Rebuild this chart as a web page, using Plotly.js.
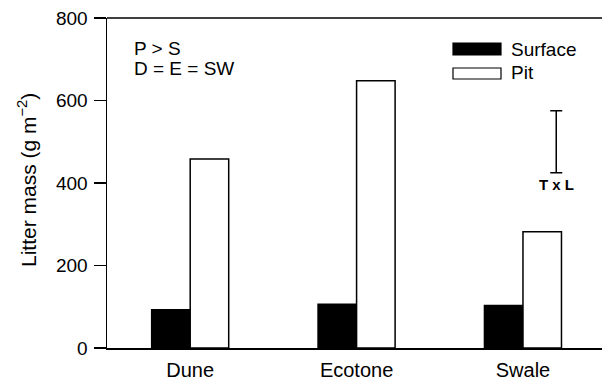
<!DOCTYPE html>
<html>
<head>
<meta charset="utf-8">
<script src="https://cdn.plot.ly/plotly-3.0.1.min.js"></script>
<style>html,body{margin:0;padding:0;background:#fff;}#chart{width:602px;height:383px;}</style>
</head>
<body>
<div id="chart"></div>
<script>
const categories = ["Dune", "Ecotone", "Swale"];
const surfaceValues = [93, 106, 103];
const pitValues = [458, 648, 282];
const seriesNames = ["Surface", "Pit"];
const yTicks = [0, 200, 400, 600, 800];
const errCenter = [500];
const errHalf = [75];
const errLabel = "T x L";
const statText = ["P > S", "D = E = SW"];

const catIdx = categories.map((c, i) => i);
const FONT = "Arial, 'Liberation Sans', Helvetica, sans-serif";

const traces = [
  {type: "bar", name: seriesNames[0], x: catIdx, y: surfaceValues,
   marker: {color: "#000", line: {color: "#000", width: 1.5}}, showlegend: false},
  {type: "bar", name: seriesNames[1], x: catIdx, y: pitValues,
   marker: {color: "#fff", line: {color: "#000", width: 1.5}}, showlegend: false},
  {type: "scatter", mode: "markers", x: [2.2], y: errCenter,
   marker: {size: 1, color: "rgba(0,0,0,0)"},
   error_y: {type: "data", array: errHalf, visible: true, color: "#000", thickness: 1.5, width: 6},
   showlegend: false, hoverinfo: "skip"}
];

const layout = {
  width: 602, height: 383,
  margin: {l: 107, r: 0, t: 18, b: 35},
  paper_bgcolor: "#fff", plot_bgcolor: "#fff",
  font: {family: FONT, size: 19, color: "#000"},
  barmode: "group", bargap: 0.537, bargroupgap: 0,
  xaxis: {range: [-0.5, 2.475], tickvals: catIdx, ticktext: categories, ticks: "",
          showline: true, linecolor: "#000", linewidth: 1.5, mirror: false,
          showgrid: false, zeroline: false, tickfont: {size: 20}, ticklabelstandoff: 3, fixedrange: true},
  yaxis: {range: [0, 800], tickvals: yTicks, ticks: "outside", ticklen: 12, tickwidth: 1.5,
          tickcolor: "#000", showline: true, linecolor: "#000", linewidth: 1.5,
          showgrid: false, zeroline: false, tickfont: {size: 19}, ticklabelstandoff: 2},
  shapes: [
    {type: "line", xref: "paper", yref: "paper", x0: 0, x1: 1, y0: 1, y1: 1,
     line: {color: "#000", width: 1.5}},
    {type: "rect", xref: "paper", yref: "paper",
     x0: (453-107)/495, x1: (501-107)/495, y0: (348-55)/330, y1: (348-43)/330,
     fillcolor: "#000", line: {color: "#000", width: 1.2}},
    {type: "rect", xref: "paper", yref: "paper",
     x0: (453-107)/495, x1: (501-107)/495, y0: (348-79)/330, y1: (348-68)/330,
     fillcolor: "#fff", line: {color: "#000", width: 1.2}}
  ],
  annotations: [
    {xref: "paper", yref: "paper", x: (27-107)/495, y: (348-180)/330, xanchor: "center", yanchor: "middle",
     text: "Litter mass (g m<sup>\u22122</sup>)", textangle: -90, showarrow: false, font: {size: 21}},
    {xref: "paper", yref: "paper", x: (132-107)/495, y: (348-48)/330, xanchor: "left", yanchor: "middle",
     text: statText[0], showarrow: false, font: {size: 19}},
    {xref: "paper", yref: "paper", x: (132-107)/495, y: (348-68)/330, xanchor: "left", yanchor: "middle",
     text: statText[1], showarrow: false, font: {size: 19}},
    {xref: "paper", yref: "paper", x: (509-107)/495, y: (348-49)/330, xanchor: "left", yanchor: "middle",
     text: seriesNames[0], showarrow: false, font: {size: 19}},
    {xref: "paper", yref: "paper", x: (509-107)/495, y: (348-73)/330, xanchor: "left", yanchor: "middle",
     text: seriesNames[1], showarrow: false, font: {size: 19}},
    {xref: "x", yref: "paper", x: 2.2, y: (348-184)/330, xanchor: "center", yanchor: "middle",
     text: "<b>" + errLabel + "</b>", showarrow: false, font: {size: 15}}
  ]
};

Plotly.newPlot("chart", traces, layout, {displayModeBar: false, staticPlot: true});
</script>
</body>
</html>
